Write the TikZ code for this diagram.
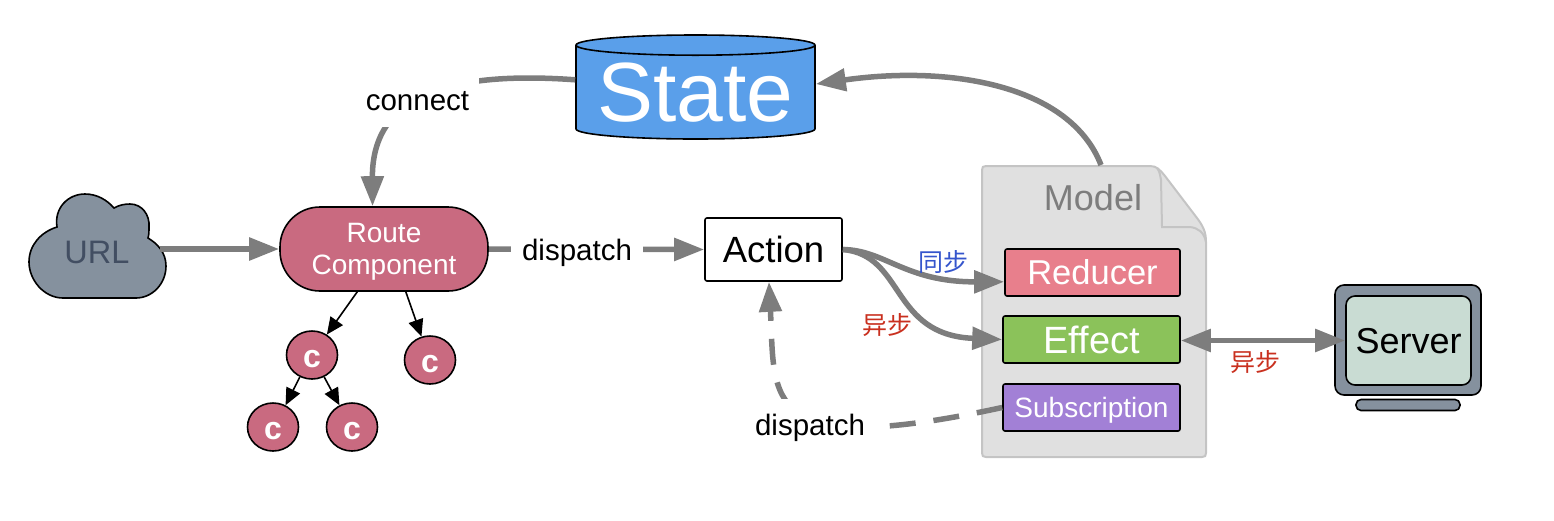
\documentclass[tikz,border=0pt]{standalone}
\usepackage{fontspec}
\setmainfont{Liberation Sans}
\newfontfamily\cjk{Noto Sans CJK SC}
\usetikzlibrary{shapes.geometric,arrows.meta}
\definecolor{StateBlue}{RGB}{90,159,234}
\definecolor{RoutePink}{RGB}{201,106,128}
\definecolor{SlateGray}{RGB}{133,145,158}
\definecolor{UrlText}{RGB}{66,78,98}
\definecolor{ReducerRed}{RGB}{232,127,140}
\definecolor{EffectGreen}{RGB}{139,194,90}
\definecolor{SubsPurple}{RGB}{162,128,214}
\definecolor{ScreenGreen}{RGB}{201,220,211}
\definecolor{ModelFill}{RGB}{224,224,224}
\definecolor{ModelLine}{RGB}{196,196,196}
\definecolor{ArrowGray}{RGB}{125,125,125}
\definecolor{TextRed}{RGB}{201,48,31}
\definecolor{TextBlue}{RGB}{53,85,204}
\tikzset{
  grayarrow/.style={draw=ArrowGray,line width=5.5pt,-{Triangle[length=30pt,width=22pt]}},
  thinarrow/.style={draw=black,line width=1.6pt,-{Triangle[length=17pt,width=15pt]}},
  boxnode/.style={draw=black,line width=1.6pt,rounded corners=2pt,inner sep=0pt,text=white,minimum height=47pt},
  childnode/.style={ellipse,draw=black,line width=1.6pt,fill=RoutePink,text=white,inner sep=0pt,minimum width=51pt,minimum height=48pt,font=\fontsize{32}{32}\selectfont\bfseries},
  labelnode/.style={fill=white,inner sep=0pt,font=\fontsize{29.5}{33}\selectfont},
  cjklabel/.style={inner sep=0pt,font=\fontsize{25}{27}\selectfont\cjk},
}
\newcommand{\childtext}{\raisebox{-12pt}[0pt][0pt]{c}}
\begin{document}
\begin{tikzpicture}[x=1pt, y=-1pt]
\useasboundingbox (0,0) rectangle (1554,520);

% model sheet
\filldraw[draw=ModelLine,fill=ModelFill,line width=2pt] (982,170) .. controls (982,167) and (983,166) .. (986,166) -- (1150,166) .. controls (1157,166) and (1160,170) .. (1165,176) -- (1197,218) .. controls (1203,226) and (1206,232) .. (1206,242) -- (1206,453) .. controls (1206,456) and (1205,457) .. (1202,457) -- (986,457) .. controls (983,457) and (982,456) .. (982,453) -- cycle;
\draw[draw=ModelLine,line width=2pt] (1157,168) .. controls (1160,172) and (1160,175) .. (1161,180) -- (1162,227) -- (1190,227) .. controls (1198,228) and (1204,232) .. (1206,242);
\node[text=ArrowGray,font=\fontsize{36}{36}\selectfont] (model) at (1093,198) {Model};
\coordinate (modeltop) at (1101,165);

\node[boxnode,fill=ReducerRed,minimum width=175pt,font=\fontsize{34.5}{36}\selectfont] (reducer) at (1092.5,272.5) {Reducer};
\node[boxnode,fill=EffectGreen,minimum width=177pt,text depth=-2pt,font=\fontsize{38}{38}\selectfont] (effect) at (1091.5,339.5) {Effect};
\node[boxnode,fill=SubsPurple,minimum width=177pt,text depth=-2pt,font=\fontsize{28}{30}\selectfont] (subs) at (1091.5,407.5) {Subscription};

% state, action, route
\node[cylinder,anchor=shape center,shape border rotate=90,aspect=0.103,draw=black,line width=1.6pt,fill=StateBlue,text=white,inner sep=0pt,minimum width=239pt,minimum height=104pt,font=\fontsize{84}{84}\selectfont] (state) at (695.5,87) {State};
\node[draw=black,line width=1.6pt,rounded corners=2pt,fill=white,inner sep=0pt,minimum width=137pt,minimum height=63pt,font=\fontsize{36.5}{38}\selectfont] (action) at (773.5,249.5) {Action};
\node[draw=black,line width=1.6pt,rounded corners=40pt,fill=RoutePink,text=white,align=center,inner sep=0pt,minimum width=208pt,minimum height=84pt,text depth=-5pt,font=\fontsize{28}{32}\selectfont] (route) at (384,249) {Route\\Component};

% cloud
\filldraw[draw=black,fill=SlateGray,line width=1.6pt] (63,298) .. controls (44,298) and (29,280) .. (29,262) .. controls (29,245) and (41,232) .. (57,227) .. controls (54,208) and (68,194) .. (85,194) .. controls (97,194) and (107,200) .. (114,208) .. controls (119,205) and (125,204) .. (130,204) .. controls (142,204) and (150,215) .. (149,227) .. controls (149,231) and (149,235) .. (148,238) .. controls (158,244) and (166,253) .. (166,266) .. controls (166,284) and (152,298) .. (136,298) -- cycle;
\node[text=UrlText,minimum width=125pt,inner sep=0pt,font=\fontsize{32.5}{33}\selectfont] (url) at (97,252) {URL};

% server
\node[draw=black,line width=1.6pt,rounded corners=9pt,fill=SlateGray,minimum width=146pt,minimum height=110pt] (monitor) at (1408,340) {};
\node[draw=black,line width=1.6pt,rounded corners=9pt,fill=ScreenGreen,inner sep=0pt,minimum width=125pt,minimum height=89pt,text depth=-5.5pt,font=\fontsize{36}{36}\selectfont] (server) at (1408.5,340.5) {Server};
\node[draw=black,line width=1.6pt,rounded corners=5pt,fill=SlateGray,minimum width=104pt,minimum height=11pt,inner sep=0pt] (stand) at (1408,405) {};

% children
\node[childnode] (childa) at (312,355) {\childtext};
\node[childnode] (childb) at (430,360) {\childtext};
\node[childnode] (childc) at (273,427) {\childtext};
\node[childnode] (childd) at (352,427) {\childtext};
\draw[thinarrow] (route.238) -- (childa.54);
\draw[thinarrow] (route.297) -- (childb.110);
\draw[thinarrow] (childa.241) -- (childc.60);
\draw[thinarrow] (childa.299) -- (childd.120);

% connectors
\draw[grayarrow] (url.east |- route.west) -- (route.west);
\draw[grayarrow] (state.174) .. controls (440,70) and (372,100) .. (route.105);
\node[labelnode,minimum width=123pt,minimum height=52pt] (connect) at (417.5,101) {connect};
\draw[grayarrow] (route.east) -- (action.west);
\node[labelnode,minimum width=132pt,minimum height=40pt] (dispatcha) at (577,252.5) {dispatch};
\draw[grayarrow] (modeltop) .. controls (1070,85) and (950,65) .. (state.4);
\draw[grayarrow] (action.east) .. controls (885,250) and (905,282) .. (reducer.186);
\draw[grayarrow] (action.east) .. controls (905,255) and (890,335) .. (effect.west);
\draw[grayarrow,dash pattern=on 26pt off 18pt] (subs.west) .. controls (760,460) and (775,400) .. (action.262);
\node[labelnode,minimum width=140pt,minimum height=58pt] (dispatchb) at (810,428) {dispatch};
\draw[draw=ArrowGray,line width=5.5pt,{Triangle[length=30pt,width=22pt]}-{Triangle[length=30pt,width=22pt]}] (effect.east |- server.west) -- (server.west);

% texts on arrows
\node[cjklabel,text=TextBlue] (syncl) at (943,262) {同步};
\node[cjklabel,text=TextRed] (asynca) at (887,325) {异步};
\node[cjklabel,text=TextRed] (asyncb) at (1255,362) {异步};
\end{tikzpicture}
\end{document}
